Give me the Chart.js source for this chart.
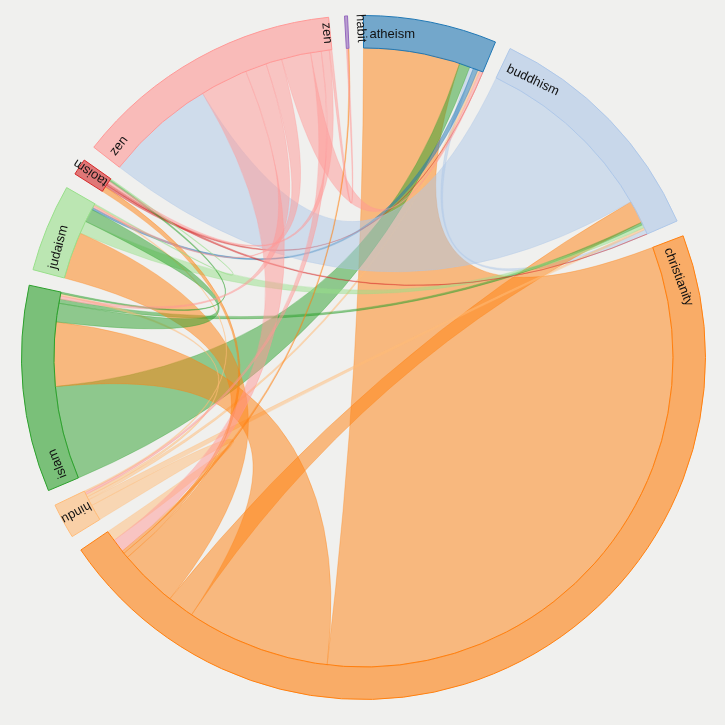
<!DOCTYPE html>
<html><head><meta charset="utf-8">
<script src="https://cdn.jsdelivr.net/npm/chart.js@4/dist/chart.umd.min.js"></script>
<style>html,body{margin:0;padding:0;background:#f0f0ee;}canvas{display:block;}</style>
</head><body>
<canvas id="c" width="725" height="725"></canvas>
<script>
// ---- data ----
const groups = ['atheism','buddhism','christianity','hindu','islam','judaism','taoism','zen','habit'];
const groupColors = ['#1f77b4','#aec7e8','#ff7f0e','#ffbb78','#2ca02c','#98df8a','#d62728','#ff9896','#9467bd'];
// flow rows (from group -> to each group, same order as groups)
const fromAtheism      = [0,     0.7, 18.1, 0.4, 2.0, 0.9, 0,   0.6, 0];
const fromBuddhism     = [0.9,   0,   4.3,  0.4, 0.5, 0.6, 0,   34.4,0];
const fromChristianity = [117.6, 5,   0,    2,   27,  11,  1,   2.5, 0.5];
const fromHindu        = [0.6,   1.2, 3.0,  0,   0.5, 0.3, 0,   0.4, 0];
const fromIslam        = [17.5,  0.8, 12,   0.4, 0,   3.5, 0.3, 0.6, 0];
const fromJudaism      = [0.4,   2.4, 8.8,  0.2, 2.5, 0,   0.2, 0.4, 0];
const fromTaoism       = [0.4,   0.4, 1.0,  0,   0.3, 0.2, 0,   0.5, 0];
const fromZen          = [5.5,   20.7,9,    2,   4,   3,   1.5, 0,   0.5];
const fromHabit        = [0,     0,   0.2,  0,   0,   0,   0,   0.3, 0];
const matrix = [fromAtheism,fromBuddhism,fromChristianity,fromHindu,fromIslam,fromJudaism,fromTaoism,fromZen,fromHabit];
// order of sub-arcs inside each group (clockwise)
const subOrder = [
  [2,4,1,5,3,7,6,8,0],
  [7,2,4,5,3,0,6,8,1],
  [0,4,1,5,6,8,7,3,2],
  [2,1,0,4,7,5,6,8,3],
  [0,2,5,1,7,3,6,8,4],
  [2,1,4,0,7,3,6,8,5],
  [2,0,1,7,4,5,3,8,6],
  [1,2,4,5,0,3,6,8,7],
  [7,2,1,0,3,4,5,6,8]
];
const padUnits = 2.68;

// ---- helpers ----
function rgba(hex,a){const n=parseInt(hex.slice(1),16);return `rgba(${n>>16&255},${n>>8&255},${n&255},${a})`;}
const totals = matrix.map(r=>r.reduce((s,v)=>s+v,0));
const ringData=[], ringBg=[], ringBorder=[];
totals.forEach((t,i)=>{ringData.push(t);ringBg.push(rgba(groupColors[i],0.6));ringBorder.push(groupColors[i]);
  ringData.push(padUnits);ringBg.push('rgba(0,0,0,0)');ringBorder.push('rgba(0,0,0,0)');});

const chordPlugin = {
  id:'chords',
  beforeDatasetsDraw(chart){
    const ctx=chart.ctx, meta=chart.getDatasetMeta(0);
    const arcs = groups.map((g,i)=>meta.data[2*i]);
    const cx=arcs[0].x, cy=arcs[0].y, r=arcs[0].innerRadius;
    const pos = groups.map(()=>[]);
    arcs.forEach((a,i)=>{
      let ang=a.startAngle; const k=(a.endAngle-a.startAngle)/totals[i];
      subOrder[i].forEach(j=>{const w=matrix[i][j]*k; pos[i][j]=[ang,ang+w]; ang+=w;});
    });
    ctx.save();
    for(let i=0;i<groups.length;i++){
      for(let j=i+1;j<groups.length;j++){
        const vi=matrix[i][j], vj=matrix[j][i];
        if(vi+vj<=0) continue;
        const col = groupColors[vi>=vj?i:j];
        const [s0,s1]=pos[i][j], [t0,t1]=pos[j][i];
        ctx.beginPath();
        ctx.arc(cx,cy,r,s0,s1);
        ctx.quadraticCurveTo(cx,cy,cx+r*Math.cos(t0),cy+r*Math.sin(t0));
        ctx.arc(cx,cy,r,t0,t1);
        ctx.quadraticCurveTo(cx,cy,cx+r*Math.cos(s0),cy+r*Math.sin(s0));
        ctx.closePath();
        ctx.fillStyle=rgba(col,0.5); ctx.fill();
        ctx.strokeStyle=rgba(col,0.5); ctx.lineWidth=0.6; ctx.stroke();
      }
    }
    ctx.restore();
  },
  afterDatasetsDraw(chart){
    const ctx=chart.ctx, meta=chart.getDatasetMeta(0);
    const arcs = groups.map((g,i)=>meta.data[2*i]);
    const cx=arcs[0].x, cy=arcs[0].y, ri=arcs[0].innerRadius, ro=arcs[0].outerRadius;
    ctx.save();
    ctx.fillStyle='#111';
    ctx.font='13px "Liberation Sans", Arial, sans-serif';
    ctx.textBaseline='alphabetic';
    const narrow = ['hindu','taoism'];
    groups.forEach((g,i)=>{
      if(g==='habit') return;
      const a=arcs[i];
      ctx.save(); ctx.translate(cx,cy);
      if(narrow.includes(g)){
        // radial label, reading outward
        ctx.rotate((a.startAngle+a.endAngle)/2+Math.PI/2);
        ctx.translate(5,-(ri+1)); ctx.rotate(-Math.PI/2);
        ctx.fillText(g,0,0);
      } else {
        ctx.rotate(a.startAngle+Math.PI/2);
        ctx.fillText(g,6,-(ri+10));
      }
      ctx.restore();
    });
    // end label for zen (radial)
    {const a=arcs[7]; ctx.save(); ctx.translate(cx,cy); ctx.rotate(a.endAngle+Math.PI/2);
     ctx.translate(-7,-(ro-5)); ctx.rotate(Math.PI/2); ctx.fillText('zen',0,0); ctx.restore();}
    // habit label (radial)
    {const a=arcs[8]; ctx.save(); ctx.translate(cx,cy); ctx.rotate(a.startAngle+Math.PI/2);
     ctx.translate(12,-(ro+1)); ctx.rotate(Math.PI/2); ctx.fillText('habit',0,0); ctx.restore();}
    ctx.restore();
  }
};

new Chart(document.getElementById('c'),{
  type:'doughnut',
  data:{labels:groups.flatMap(g=>[g,'']),datasets:[{data:ringData,backgroundColor:ringBg,borderColor:ringBorder,borderWidth:1,borderAlign:'center',hoverOffset:0}]},
  options:{responsive:false,animation:false,events:[],cutout:'90.5%',
    layout:{padding:{left:21,right:19,top:15,bottom:25}},
    plugins:{legend:{display:false},tooltip:{enabled:false}}},
  plugins:[chordPlugin]
});
</script>
</body></html>
